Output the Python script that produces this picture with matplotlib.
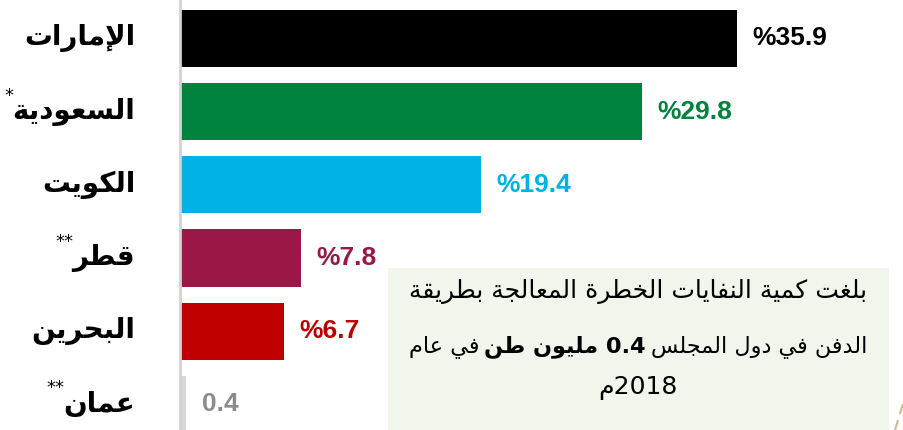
import matplotlib
matplotlib.use("Agg")
import matplotlib.pyplot as plt
import matplotlib.transforms as mtransforms
from matplotlib.patches import Rectangle
from matplotlib.lines import Line2D

# data
countries = ["الإمارات", "السعودية", "الكويت", "قطر", "البحرين", "عمان"]
marks = ["", "*", "", "**", "", "**"]
values = [35.9, 29.8, 19.4, 7.8, 6.7, 0.4]
show_pct = [True, True, True, True, True, False]
bar_colors = ["#000000", "#00833D", "#00B2E5", "#9A1748", "#C00000", "#D9D9D9"]
text_colors = ["#000000", "#00833D", "#00B2E5", "#9A1748", "#C00000", "#8C8C8C"]

note_line1 = "بلغت كمية النفايات الخطرة المعالجة بطريقة"
note_line2_start = "الدفن في دول المجلس"
note_line2_bold = "0.4 مليون طن"
note_line2_end = "في عام"
note_line3 = "2018م"

# minimal arabic shaping (matplotlib has no complex text layout)
FORMS = {
    "\u0627": (0xFE8D, 2), "\u0625": (0xFE87, 2), "\u0628": (0xFE8F, 4),
    "\u0629": (0xFE93, 2), "\u062A": (0xFE95, 4), "\u062C": (0xFE9D, 4),
    "\u062D": (0xFEA1, 4), "\u062E": (0xFEA5, 4), "\u062F": (0xFEA9, 2),
    "\u0631": (0xFEAD, 2), "\u0633": (0xFEB1, 4), "\u0637": (0xFEC1, 4),
    "\u0639": (0xFEC9, 4), "\u063A": (0xFECD, 4), "\u0641": (0xFED1, 4),
    "\u0642": (0xFED5, 4), "\u0643": (0xFED9, 4), "\u0644": (0xFEDD, 4),
    "\u0645": (0xFEE1, 4), "\u0646": (0xFEE5, 4), "\u0648": (0xFEED, 2),
    "\u064A": (0xFEF1, 4),
}
LAM_ALEF = {"\u0627": 0xFEFB, "\u0625": 0xFEF9}


def shape(s):
    out = []
    i = 0
    n = len(s)
    while i < n:
        c = s[i]
        if c not in FORMS:
            out.append(c)
            i += 1
            continue
        prev_join = i > 0 and s[i - 1] in FORMS and FORMS[s[i - 1]][1] == 4
        if c == "\u0644" and i + 1 < n and s[i + 1] in LAM_ALEF:
            out.append(chr(LAM_ALEF[s[i + 1]] + (1 if prev_join else 0)))
            i += 2
            continue
        next_join = FORMS[c][1] == 4 and i + 1 < n and s[i + 1] in FORMS
        off = 3 if (prev_join and next_join) else 1 if prev_join else 2 if next_join else 0
        out.append(chr(FORMS[c][0] + off))
        i += 1
    return "".join(out)


def visual(s):
    shaped = shape(s)
    runs = []
    for c in shaped:
        ltr = c.isdigit() or c in ".%"
        if runs and runs[-1][0] == ltr:
            runs[-1][1].append(c)
        else:
            runs.append((ltr, [c]))
    return "".join("".join(r) if ltr else "".join(reversed(r)) for ltr, r in reversed(runs))


W, H = 904, 430
fig = plt.figure(figsize=(W / 100, H / 100), dpi=100)
ax = fig.add_axes([180 / W, 0, 1 - 180 / W, 1])
ax.patch.set_visible(False)

ypos = list(range(len(values)))
ax.barh(ypos, values, height=0.78, color=bar_colors, zorder=2)
ax.set_xlim(0, (W - 180) / 15.51)
ax.set_ylim(5.35, -0.526)
ax.set_xticks([])
ax.set_yticks([])
for s in ["top", "right", "bottom"]:
    ax.spines[s].set_visible(False)
ax.spines["left"].set_color("#D3D3D3")
ax.spines["left"].set_linewidth(2)

for i, v in enumerate(values):
    lab = f"%{v}" if show_pct[i] else f"{v}"
    ax.text(v + 1.0, i, lab, ha="left", va="center", fontsize=19, fontweight="bold",
            family="Liberation Sans", color=text_colors[i])

# country labels on the left
trans = mtransforms.blended_transform_factory(fig.transFigure, ax.transData)
renderer = fig.canvas.get_renderer()
pix = mtransforms.IdentityTransform()
for i, name in enumerate(countries):
    t = ax.text(135 / W, i, visual(name), ha="right", va="center", fontsize=20,
                fontweight="bold", family="DejaVu Sans", color="black", transform=trans)
    if marks[i]:
        bb = t.get_window_extent(renderer)
        yc = (bb.y0 + bb.y1) / 2
        ax.text(bb.x0 + 1, yc + 16, marks[i], ha="right", va="center", fontsize=13,
                family="DejaVu Sans", color="black", transform=pix)

# note box
fig.add_artist(Rectangle((388 / W, 0), 501 / W, 162 / H, transform=fig.transFigure,
                         facecolor="#F1F6EC", edgecolor="none", zorder=3))
fig.add_artist(Line2D([895 / W, 903 / W], [0, 26 / H], color="#CDBA8F", lw=1.5,
                      ls=(0, (5, 3)), zorder=3))

cx = 638
fs = 18
fig.text(cx / W, 1 - 292 / H, visual(note_line1), ha="center", va="center",
         fontsize=fs, family="DejaVu Sans", zorder=4)
fig.text(cx / W, 1 - 388 / H, visual(note_line3), ha="center", va="center",
         fontsize=fs, family="DejaVu Sans", zorder=4)

# line 2 with a bold middle part, laid out in visual order left to right
pieces = [(visual(note_line2_end), "normal"),
          (visual(note_line2_bold), "bold"),
          (visual(note_line2_start), "normal")]
texts = [fig.text(0, 0, p, fontsize=fs, fontweight=w, family="DejaVu Sans",
                  ha="left", va="baseline", transform=pix, zorder=4) for p, w in pieces]


def measure():
    ws = [t.get_window_extent(renderer).width for t in texts]
    return ws, sum(ws) + 0.3 * texts[0].get_fontsize() * (len(ws) - 1)


widths, total = measure()
fs2 = fs * 458 / total
for t in texts:
    t.set_fontsize(fs2)
widths, total = measure()
gap = 0.3 * fs2
x = cx - total / 2
ybase = H - 352
for t, w in zip(texts, widths):
    t.set_position((x, ybase))
    x += w + gap

fig.savefig("out.png", dpi=100)
